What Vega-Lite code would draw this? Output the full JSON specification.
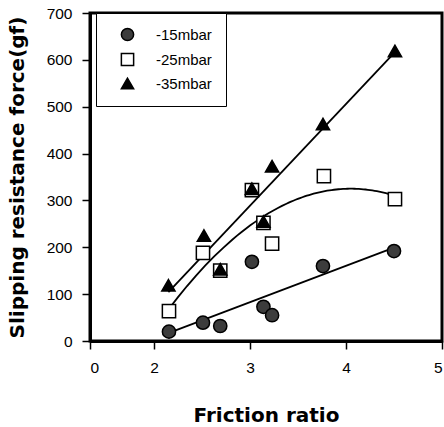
{
  "$schema": "https://vega.github.io/schema/vega-lite/v6.json",
  "width": 352,
  "height": 328,
  "autosize": {"type": "none"},
  "padding": {"left": 90, "top": 13, "right": 2, "bottom": 86},
  "background": "white",
  "config": {
    "view": {"stroke": "black", "strokeWidth": 3},
    "font": "Liberation Sans",
    "axis": {
      "grid": false,
      "domainColor": "black",
      "domainWidth": 3,
      "tickColor": "black",
      "tickWidth": 1.5,
      "labelFont": "Liberation Sans",
      "labelFontSize": 15.5,
      "labelColor": "black",
      "titleFont": "DejaVu Sans",
      "titleFontWeight": "bold",
      "titleColor": "black"
    },
    "legend": {
      "labelFont": "Liberation Sans",
      "labelFontSize": 15,
      "labelColor": "black"
    }
  },
  "data": {
    "values": [
      {"ratio": 2.156, "force": 20, "series": "-15mbar"},
      {"ratio": 2.51, "force": 39, "series": "-15mbar"},
      {"ratio": 2.69, "force": 32, "series": "-15mbar"},
      {"ratio": 3.02, "force": 169, "series": "-15mbar"},
      {"ratio": 3.14, "force": 73, "series": "-15mbar"},
      {"ratio": 3.23, "force": 55, "series": "-15mbar"},
      {"ratio": 3.76, "force": 160, "series": "-15mbar"},
      {"ratio": 4.5, "force": 192, "series": "-15mbar"},
      {"ratio": 2.156, "force": 64, "series": "-25mbar"},
      {"ratio": 2.51, "force": 188, "series": "-25mbar"},
      {"ratio": 2.69, "force": 150, "series": "-25mbar"},
      {"ratio": 3.02, "force": 322, "series": "-25mbar"},
      {"ratio": 3.14, "force": 252, "series": "-25mbar"},
      {"ratio": 3.23, "force": 208, "series": "-25mbar"},
      {"ratio": 3.77, "force": 352, "series": "-25mbar"},
      {"ratio": 4.51, "force": 303, "series": "-25mbar"},
      {"ratio": 2.15, "force": 119, "series": "-35mbar"},
      {"ratio": 2.52, "force": 225, "series": "-35mbar"},
      {"ratio": 2.69, "force": 153, "series": "-35mbar"},
      {"ratio": 3.02, "force": 325, "series": "-35mbar"},
      {"ratio": 3.14, "force": 255, "series": "-35mbar"},
      {"ratio": 3.23, "force": 373, "series": "-35mbar"},
      {"ratio": 3.76, "force": 463, "series": "-35mbar"},
      {"ratio": 4.51, "force": 619, "series": "-35mbar"}
    ]
  },
  "encoding": {
    "x": {
      "field": "ratio",
      "type": "quantitative",
      "scale": {"domain": [0, 2, 5], "range": [0, 64, 352]},
      "axis": {
        "values": [0, 2, 3, 4, 5],
        "tickSize": 8,
        "labelPadding": 11,
        "title": "Friction ratio",
        "titleFontSize": 20,
        "titlePadding": 30
      }
    },
    "y": {
      "field": "force",
      "type": "quantitative",
      "scale": {"domain": [0, 700]},
      "axis": {
        "values": [0, 100, 200, 300, 400, 500, 600, 700],
        "tickSize": 8,
        "labelPadding": 10,
        "title": "Slipping resistance force(gf)",
        "titleFontSize": 20,
        "titlePadding": 19
      }
    }
  },
  "layer": [
    {
      "transform": [
        {"filter": "datum.series !== '-25mbar'"},
        {"regression": "force", "on": "ratio", "groupby": ["series"], "method": "linear"}
      ],
      "mark": {"type": "line", "color": "black", "strokeWidth": 1.8},
      "encoding": {"detail": {"field": "series"}}
    },
    {
      "transform": [
        {"filter": "datum.series === '-25mbar'"},
        {"regression": "force", "on": "ratio", "method": "poly", "order": 2}
      ],
      "mark": {"type": "line", "color": "black", "strokeWidth": 1.8},
      "encoding": {}
    },
    {
      "mark": {"type": "point", "filled": true, "stroke": "black", "strokeWidth": 1.5, "opacity": 1, "size": 175},
      "encoding": {
        "shape": {
          "field": "series",
          "type": "nominal",
          "scale": {"domain": ["-15mbar", "-25mbar", "-35mbar"], "range": ["circle", "square", "triangle-up"]},
          "legend": {
            "title": null,
            "orient": "none",
            "legendX": 6,
            "legendY": 0,
            "padding": 14,
            "strokeColor": "black",
            "fillColor": "white",
            "symbolOffset": 10,
            "labelOffset": 21,
            "rowPadding": 6,
            "symbolSize": 150,
            "symbolStrokeWidth": 1.5
          }
        },
        "fill": {
          "field": "series",
          "type": "nominal",
          "scale": {"domain": ["-15mbar", "-25mbar", "-35mbar"], "range": ["#3c3c3c", "white", "black"]},
          "legend": {
            "title": null,
            "orient": "none",
            "legendX": 6,
            "legendY": 0,
            "padding": 14,
            "strokeColor": "black",
            "fillColor": "white",
            "symbolOffset": 10,
            "labelOffset": 21,
            "rowPadding": 6,
            "symbolSize": 150,
            "symbolStrokeWidth": 1.5
          }
        }
      }
    }
  ]
}
